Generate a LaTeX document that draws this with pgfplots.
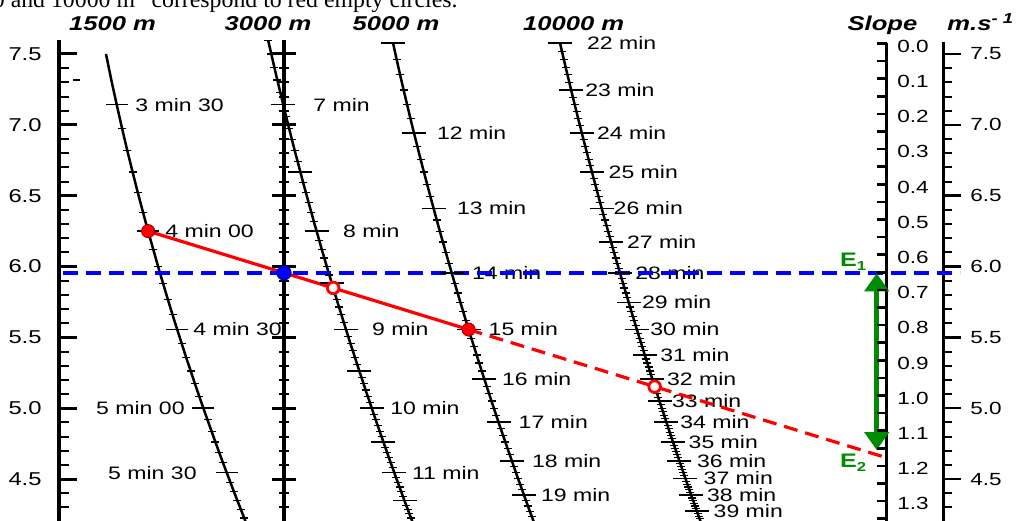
\documentclass[border=0pt]{standalone}
\usepackage{pgfplots}
\pgfplotsset{compat=1.18}
\usepackage{pgfplotstable}
\usepackage{fontspec}
\setmainfont{Liberation Sans}[FakeStretch=1.28]
\newfontfamily\capfont{Liberation Serif}
\usetikzlibrary{arrows.meta}
\definecolor{ered}{RGB}{255,0,0}
\definecolor{eblue}{RGB}{0,0,255}
\definecolor{egreen}{RGB}{0,140,0}

% x = horizontal position (px of the original), y = speed in m/s
% 1500 m: 3 min 20 to 5 min 55, every 5 s
\pgfplotstableread{
x y
106.0 7.5
111.3 7.3171
116.7 7.1429
122.0 6.9767
127.3 6.8182
132.6 6.6667
137.8 6.5217
143.0 6.3830
148.1 6.25
153.2 6.1224
158.1 6.0
163.0 5.8824
167.8 5.7692
172.5 5.6604
177.2 5.5556
181.8 5.4545
186.2 5.3571
190.7 5.2632
195.0 5.1724
199.2 5.0847
203.4 5.0
207.5 4.9180
211.5 4.8387
215.4 4.7619
219.2 4.6875
223.0 4.6154
226.7 4.5455
230.4 4.4776
233.9 4.4118
237.4 4.3478
240.9 4.2857
244.2 4.2254
246.1 4.19
}\tabA

% 3000 m: 6 min 35 to 11 min 50, every 5 s
\pgfplotstableread{
x y
268.2 7.5949
271.3 7.5
274.3 7.4074
277.3 7.3171
280.3 7.2289
283.2 7.1429
286.1 7.0588
289.0 6.9767
291.9 6.8966
294.7 6.8182
297.6 6.7416
300.4 6.6667
303.1 6.5934
305.9 6.5217
308.6 6.4516
311.3 6.3830
313.9 6.3158
316.6 6.25
319.2 6.1856
321.7 6.1224
324.3 6.0606
326.8 6.0
329.3 5.9406
331.8 5.8824
334.2 5.8252
336.6 5.7692
339.0 5.7143
341.4 5.6604
343.7 5.6075
346.0 5.5556
348.3 5.5046
350.5 5.4545
352.8 5.4054
355.0 5.3571
357.2 5.3097
359.3 5.2632
361.5 5.2174
363.6 5.1724
365.6 5.1282
367.7 5.0847
369.8 5.0420
371.8 5.0
373.8 4.9587
375.7 4.9180
377.7 4.8780
379.6 4.8387
381.5 4.8
383.4 4.7619
385.3 4.7244
387.1 4.6875
388.9 4.6512
390.7 4.6154
392.5 4.5802
394.3 4.5455
396.0 4.5113
397.8 4.4776
399.5 4.4444
401.2 4.4118
402.8 4.3796
404.5 4.3478
406.1 4.3165
407.8 4.2857
409.4 4.2553
411.0 4.2254
412.9 4.19
}\tabB

% 5000 m: 11 min to 19 min 40, every 10 s
\pgfplotstableread{
x y
393.1 7.5758
396.6 7.4627
400.1 7.3529
403.6 7.2464
407.1 7.1429
410.5 7.0423
413.9 6.9444
417.3 6.8493
420.6 6.7568
423.9 6.6667
427.2 6.5789
430.4 6.4935
433.6 6.4103
436.7 6.3291
439.8 6.25
442.9 6.1728
445.9 6.0976
448.9 6.0241
451.8 5.9524
454.7 5.8824
457.6 5.8140
460.4 5.7471
463.2 5.6818
465.9 5.6180
468.6 5.5556
471.3 5.4945
474.0 5.4348
476.6 5.3763
479.2 5.3191
481.7 5.2632
484.2 5.2083
486.7 5.1546
489.1 5.1020
491.5 5.0505
493.9 5.0
496.2 4.9505
498.5 4.9020
500.8 4.8544
503.1 4.8077
505.3 4.7619
507.5 4.7170
509.7 4.6729
511.8 4.6296
513.9 4.5872
516.0 4.5455
518.0 4.5045
520.1 4.4643
522.1 4.4248
524.0 4.3860
526.0 4.3478
527.9 4.3103
529.8 4.2735
531.7 4.2373
534.2 4.19
}\tabC

% 10000 m: 22 min to 39 min 30, every 10 s
\pgfplotstableread{
x y
560.1 7.5758
561.9 7.5188
563.8 7.4627
565.6 7.4074
567.5 7.3529
569.3 7.2993
571.1 7.2464
572.9 7.1942
574.7 7.1429
576.5 7.0922
578.2 7.0423
580.0 6.9930
581.7 6.9444
583.5 6.8966
585.2 6.8493
586.9 6.8027
588.6 6.7568
590.3 6.7114
592.0 6.6667
593.6 6.6225
595.3 6.5789
596.9 6.5359
598.5 6.4935
600.1 6.4516
601.7 6.4103
603.3 6.3694
604.9 6.3291
606.5 6.2893
608.0 6.25
609.6 6.2112
611.1 6.1728
612.6 6.1350
614.1 6.0976
615.6 6.0606
617.1 6.0241
618.6 5.9880
620.1 5.9524
621.5 5.9172
623.0 5.8824
624.4 5.8480
625.9 5.8140
627.3 5.7803
628.7 5.7471
630.1 5.7143
631.4 5.6818
632.8 5.6497
634.2 5.6180
635.5 5.5866
636.9 5.5556
638.2 5.5249
639.5 5.4945
640.9 5.4645
642.2 5.4348
643.5 5.4054
644.7 5.3763
646.0 5.3476
647.3 5.3191
648.6 5.2910
649.8 5.2632
651.0 5.2356
652.3 5.2083
653.5 5.1813
654.7 5.1546
655.9 5.1282
657.1 5.1020
658.3 5.0761
659.5 5.0505
660.7 5.0251
661.8 5.0
663.0 4.9751
664.1 4.9505
665.3 4.9261
666.4 4.9020
667.5 4.8780
668.6 4.8544
669.7 4.8309
670.8 4.8077
671.9 4.7847
673.0 4.7619
674.1 4.7393
675.1 4.7170
676.2 4.6948
677.3 4.6729
678.3 4.6512
679.3 4.6296
680.4 4.6083
681.4 4.5872
682.4 4.5662
683.4 4.5455
684.4 4.5249
685.4 4.5045
686.4 4.4843
687.4 4.4643
688.4 4.4444
689.4 4.4248
690.3 4.4053
691.3 4.3860
692.2 4.3668
693.2 4.3478
694.1 4.3290
695.1 4.3103
696.0 4.2918
696.9 4.2735
697.8 4.2553
698.7 4.2373
699.6 4.2194
701.1 4.19
}\tabD

\pgfplotsset{
  curve/.style={black, line width=1.25pt, mark=none},
  minort/.style={only marks, mark=-, mark size=2pt, mark options={black, line width=0.6pt}},
  majort/.style={only marks, mark=-, mark size=6pt, mark options={black, line width=0.8pt}},
  spine/.style={black, line width=2pt, mark=none},
}
\tikzset{
  lab/.style={inner sep=0pt, font=\fontsize{9}{10}\selectfont},
  num/.style={inner sep=0pt, font=\fontsize{9.3}{10}\selectfont},
  snum/.style={inner sep=0pt, font=\fontsize{8.8}{10}\selectfont},
  ttl/.style={inner sep=0pt, anchor=base, font=\bfseries\itshape\fontsize{10}{11}\selectfont},
}

\begin{document}
\begin{tikzpicture}
\path[use as bounding box] (0,0) rectangle (513.5pt,260pt);
\begin{axis}[
  at={(0,0)}, anchor=south west,
  scale only axis, width=513.5pt, height=260pt,
  xmin=0, xmax=1027, ymin=4.2114, ymax=7.8811,
  hide axis, clip=true,
]
% speed axes and slope axis
\addplot[spine] coordinates {(58.5,7.5988) (58.5,4.1)};
\addplot[spine] coordinates {(284,7.5988) (284,4.1)};
\addplot[spine, line width=1.7pt] coordinates {(886.7,7.5797) (886.7,4.1)};
\addplot[spine, line width=1.7pt] coordinates {(943.3,7.5868) (943.3,4.1)};

% left axis ticks
\addplot[only marks, mark=-, mark size=2.5pt, mark options={line width=1pt}] coordinates {
(63.5,7.5) (63.5,7.4) (63.5,7.3) (63.5,7.2) (63.5,7.1) (63.5,7.0) (63.5,6.9) (63.5,6.8) (63.5,6.7) (63.5,6.6)
(63.5,6.5) (63.5,6.4) (63.5,6.3) (63.5,6.2) (63.5,6.1) (63.5,6.0) (63.5,5.9) (63.5,5.8) (63.5,5.7) (63.5,5.6)
(63.5,5.5) (63.5,5.4) (63.5,5.3) (63.5,5.2) (63.5,5.1) (63.5,5.0) (63.5,4.9) (63.5,4.8) (63.5,4.7) (63.5,4.6)
(63.5,4.5) (63.5,4.4) (63.5,4.3)};
\addplot[only marks, mark=-, mark size=4.55pt, mark options={line width=1.5pt}] coordinates {
(67.6,7.5) (67.6,7.0) (67.6,6.5) (67.6,6.0) (67.6,5.5) (67.6,5.0) (67.6,4.5)};
\addplot[only marks, mark=-, mark size=1.75pt, mark options={line width=0.8pt}] coordinates {(76.5,7.3171)};

% middle axis ticks
\addplot[only marks, mark=-, mark size=2.5pt, mark options={line width=1pt}] coordinates {
(284,7.5) (284,7.4) (284,7.3) (284,7.2) (284,7.1) (284,7.0) (284,6.9) (284,6.8) (284,6.7) (284,6.6)
(284,6.5) (284,6.4) (284,6.3) (284,6.2) (284,6.1) (284,6.0) (284,5.9) (284,5.8) (284,5.7) (284,5.6)
(284,5.5) (284,5.4) (284,5.3) (284,5.2) (284,5.1) (284,5.0) (284,4.9) (284,4.8) (284,4.7) (284,4.6)
(284,4.5) (284,4.4) (284,4.3)};
\addplot[only marks, mark=-, mark size=6pt, mark options={line width=1.5pt}] coordinates {
(284,7.5) (284,7.0) (284,6.5) (284,6.0) (284,5.5) (284,5.0) (284,4.5)};

% right axis ticks
\addplot[only marks, mark=-, mark size=2.25pt, mark options={line width=1pt}] coordinates {
(947.8,7.5) (947.8,7.4) (947.8,7.3) (947.8,7.2) (947.8,7.1) (947.8,7.0) (947.8,6.9) (947.8,6.8) (947.8,6.7) (947.8,6.6)
(947.8,6.5) (947.8,6.4) (947.8,6.3) (947.8,6.2) (947.8,6.1) (947.8,6.0) (947.8,5.9) (947.8,5.8) (947.8,5.7) (947.8,5.6)
(947.8,5.5) (947.8,5.4) (947.8,5.3) (947.8,5.2) (947.8,5.1) (947.8,5.0) (947.8,4.9) (947.8,4.8) (947.8,4.7) (947.8,4.6)
(947.8,4.5) (947.8,4.4) (947.8,4.3)};
\addplot[only marks, mark=-, mark size=4.5pt, mark options={line width=1.2pt}] coordinates {
(952.3,7.5) (952.3,7.0) (952.3,6.5) (952.3,6.0) (952.3,5.5) (952.3,5.0) (952.3,4.5)};

% slope ticks, every 0.05
\addplot[only marks, mark=-, mark size=2.4pt, mark options={line width=1.3pt}] coordinates {
(881.9,7.5741) (881.9,7.4499) (881.9,7.3257) (881.9,7.2015) (881.9,7.0773) (881.9,6.9531) (881.9,6.8289)
(881.9,6.7047) (881.9,6.5805) (881.9,6.4563) (881.9,6.3321) (881.9,6.2079) (881.9,6.0836) (881.9,5.9594)
(881.9,5.8352) (881.9,5.7110) (881.9,5.5868) (881.9,5.4626) (881.9,5.3384) (881.9,5.2142) (881.9,5.0900)
(881.9,4.9658) (881.9,4.8416) (881.9,4.7174) (881.9,4.5932) (881.9,4.4690) (881.9,4.3448) (881.9,4.2206)};

% distance curves
\addplot[curve] table {\tabA};
\addplot[minort, skip coords between index={0}{2}] table {\tabA};
\addplot[majort, mark size=5.5pt] coordinates {(116.7,7.1429) (148.1,6.25) (177.2,5.5556) (203.4,5.0) (226.7,4.5455)};

\addplot[curve] table {\tabB};
\addplot[minort] table {\tabB};
\addplot[majort] coordinates {(283.2,7.1429) (300.4,6.6667) (316.6,6.25) (331.8,5.8824) (346.0,5.5556)
(359.3,5.2632) (371.8,5.0) (383.4,4.7619) (394.3,4.5455) (404.5,4.3478)};

\addplot[curve] table {\tabC};
\addplot[minort] table {\tabC};
\addplot[majort] coordinates {(393.1,7.5758) (413.9,6.9444) (433.6,6.4103) (451.8,5.9524) (468.6,5.5556)
(484.2,5.2083) (498.5,4.9020) (511.8,4.6296) (524.0,4.3860)};

\addplot[curve] table {\tabD};
\addplot[minort] table {\tabD};
\addplot[majort] coordinates {(560.1,7.5758) (571.1,7.2464) (581.7,6.9444) (592.0,6.6667) (601.7,6.4103)
(611.1,6.1728) (620.1,5.9524) (628.7,5.7471) (636.9,5.5556) (644.7,5.3763) (652.3,5.2083) (659.5,5.0505)
(666.4,4.9020) (673.0,4.7619) (679.3,4.6296) (685.4,4.5045) (691.3,4.3860) (696.9,4.2735)};

% caption line cut at the top
\node[anchor=base west, inner sep=0pt, font=\capfont\fontsize{11.9}{13}\selectfont] at (-7.5,7.8296)
  {\llap{Predicted times for 300}0 and 10000 m” correspond to red empty circles.};

% titles
\node[ttl] at (112.5,7.6644) {1500 m};
\node[ttl] at (268,7.6644) {3000 m};
\node[ttl] at (396,7.6644) {5000 m};
\node[ttl] at (573.7,7.6644) {10000 m};
\node[ttl] at (882.5,7.6644) {Slope};
\node[ttl, anchor=base west] at (947,7.6644) {m.s\raisebox{3.5pt}{\fontsize{7.2}{8}\selectfont - 1}};

% left axis numbers
\node[num, anchor=east] at (42,7.5) {7.5};
\node[num, anchor=east] at (42,7.0) {7.0};
\node[num, anchor=east] at (42,6.5) {6.5};
\node[num, anchor=east] at (42,6.0) {6.0};
\node[num, anchor=east] at (42,5.5) {5.5};
\node[num, anchor=east] at (42,5.0) {5.0};
\node[num, anchor=east] at (42,4.5) {4.5};
% right axis numbers
\node[snum, anchor=west] at (970,7.5) {7.5};
\node[snum, anchor=west] at (970,7.0) {7.0};
\node[snum, anchor=west] at (970,6.5) {6.5};
\node[snum, anchor=west] at (970,6.0) {6.0};
\node[snum, anchor=west] at (970,5.5) {5.5};
\node[snum, anchor=west] at (970,5.0) {5.0};
\node[snum, anchor=west] at (970,4.5) {4.5};
% slope numbers
\node[snum, anchor=west] at (897,7.554) {0.0};
\node[snum, anchor=west] at (897,7.306) {0.1};
\node[snum, anchor=west] at (897,7.057) {0.2};
\node[snum, anchor=west] at (897,6.809) {0.3};
\node[snum, anchor=west] at (897,6.561) {0.4};
\node[snum, anchor=west] at (897,6.312) {0.5};
\node[snum, anchor=west] at (897,6.064) {0.6};
\node[snum, anchor=west] at (897,5.815) {0.7};
\node[snum, anchor=west] at (897,5.567) {0.8};
\node[snum, anchor=west] at (897,5.318) {0.9};
\node[snum, anchor=west] at (897,5.070) {1.0};
\node[snum, anchor=west] at (897,4.822) {1.1};
\node[snum, anchor=west] at (897,4.573) {1.2};
\node[snum, anchor=west] at (897,4.325) {1.3};

% time labels 1500 m
\node[lab, anchor=west] at (135,7.1429) {3 min 30};
\node[lab, anchor=west] at (165,6.25) {4 min 00};
\node[lab, anchor=west] at (193,5.5556) {4 min 30};
\node[lab, anchor=east] at (185,5.0) {5 min 00};
\node[lab, anchor=east] at (197,4.5455) {5 min 30};
% 3000 m
\node[lab, anchor=west] at (313,7.1429) {7 min};
\node[lab, anchor=west] at (342.7,6.25) {8 min};
\node[lab, anchor=west] at (371.7,5.5556) {9 min};
\node[lab, anchor=west] at (390,5.0) {10 min};
\node[lab, anchor=west] at (411.7,4.5455) {11 min};
% 5000 m
\node[lab, anchor=west] at (436.7,6.9444) {12 min};
\node[lab, anchor=west] at (456.7,6.4103) {13 min};
\node[lab, anchor=west] at (471.7,5.9524) {14 min};
\node[lab, anchor=west] at (488.3,5.5556) {15 min};
\node[lab, anchor=west] at (501.7,5.2083) {16 min};
\node[lab, anchor=west] at (518.3,4.9020) {17 min};
\node[lab, anchor=west] at (531.7,4.6296) {18 min};
\node[lab, anchor=west] at (540.7,4.3860) {19 min};
% 10000 m
\node[lab, anchor=west] at (586.7,7.5758) {22 min};
\node[lab, anchor=west] at (585,7.2464) {23 min};
\node[lab, anchor=west] at (596.7,6.9444) {24 min};
\node[lab, anchor=west] at (608.3,6.6667) {25 min};
\node[lab, anchor=west] at (613.3,6.4103) {26 min};
\node[lab, anchor=west] at (626.7,6.1728) {27 min};
\node[lab, anchor=west] at (635,5.9524) {28 min};
\node[lab, anchor=west] at (641.7,5.7471) {29 min};
\node[lab, anchor=west] at (650,5.5556) {30 min};
\node[lab, anchor=west] at (660,5.3763) {31 min};
\node[lab, anchor=west] at (666.7,5.2083) {32 min};
\node[lab, anchor=west] at (671.7,5.0505) {33 min};
\node[lab, anchor=west] at (680,4.9020) {34 min};
\node[lab, anchor=west] at (688.3,4.7619) {35 min};
\node[lab, anchor=west] at (696.7,4.6296) {36 min};
\node[lab, anchor=west] at (703.3,4.5045) {37 min};
\node[lab, anchor=west] at (706.7,4.3860) {38 min};
\node[lab, anchor=west] at (713.3,4.2735) {39 min};

% prediction line, mean speed line, slope range
\addplot[ered, line width=1.6pt] coordinates {(148.1,6.25) (468.6,5.5556)};
\addplot[ered, line width=1.6pt, dash pattern=on 7pt off 4pt] coordinates {(468.6,5.5556) (883.3,4.6577)};
\addplot[eblue, line width=1.7pt, dash pattern=on 7.5pt off 4pt] coordinates {(63,5.9556) (960,5.9556)};
\addplot[egreen, line width=2.5pt, {Triangle[length=9pt,width=12pt]}-{Triangle[length=9pt,width=12pt]}]
  coordinates {(876.7,5.952) (876.7,4.705)};

% points
\addplot[only marks, mark=*, mark size=3.3pt, mark options={fill=ered, draw=red!60!black, line width=0.4pt}]
  coordinates {(148.1,6.25) (468.6,5.5556)};
\addplot[only marks, mark=*, mark size=3.6pt, mark options={fill=eblue, draw=blue!50!black, line width=0.4pt}]
  coordinates {(284,5.9556)};
\addplot[only marks, mark=*, mark size=2.9pt, mark options={fill=white, draw=ered, line width=1.4pt}]
  coordinates {(333.2,5.849) (654.6,5.1526)};

\node[text=egreen, font=\bfseries\fontsize{9.8}{11}\selectfont] at (853,6.032)
  {E\raisebox{-2pt}{\fontsize{6.5}{7}\selectfont 1}};
\node[text=egreen, font=\bfseries\fontsize{9.8}{11}\selectfont] at (853,4.614)
  {E\raisebox{-2pt}{\fontsize{6.5}{7}\selectfont 2}};
\end{axis}
\end{tikzpicture}
\end{document}
